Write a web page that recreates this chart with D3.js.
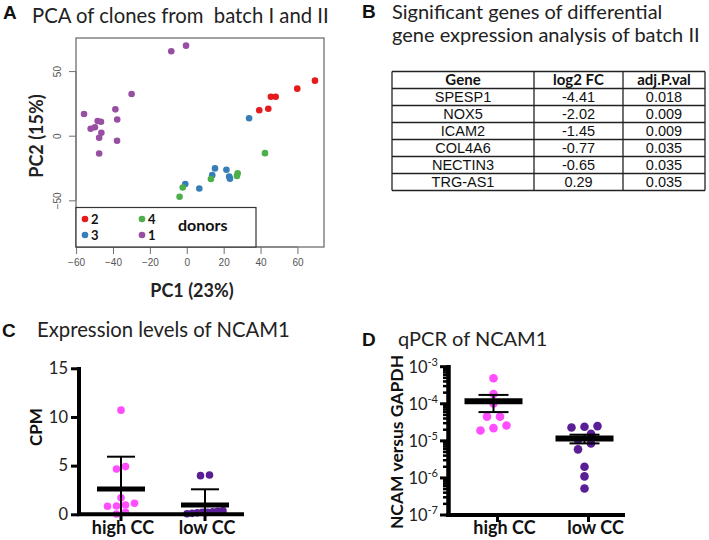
<!DOCTYPE html>
<html><head><meta charset="utf-8">
<script src="https://cdn.jsdelivr.net/npm/d3@7"></script>
<style>
body{margin:0;background:#fff;}
svg{display:block;}
</style></head>
<body>
<svg id="chart" width="709" height="540"></svg>
<script>
// ---------- DATA ----------
// Panel A: PCA of clones (PC1, PC2) per donor
const donors = ["2", "3", "4", "1"];
const pcaDonor2 = [[39.3,19.7],[44.2,20.9],[45.6,30.2],[48.2,30.2],[59.9,36.4],[69.5,42.6]];
const pcaDonor3 = [[33.8,13.5],[15.3,-25.3],[21.5,-26.3],[13.8,-30.5],[23.0,-31.5],[23.4,-33.2],[6.8,-40.8],[-0.8,-37.4]];
const pcaDonor4 = [[42.4,-13.5],[13.1,-33.5],[27.6,-29.1],[27.2,-31.2],[-2.2,-40.1],[-3.9,-47.2]];
const pcaDonor1 = [[-8.4,65.3],[-0.4,69.7],[-29.9,32.3],[-38.7,20.4],[-55.7,16.8],[-37.7,12.5],[-48.3,11.4],[-46.5,10.8],[-52.1,5.4],[-49.8,6.5],[-46.3,2.3],[-47.5,-1.6],[-37.8,-3.9],[-47.5,-13.8]];
const pcaXTicks = [-60,-40,-20,0,20,40,60];
const pcaYTicks = [-50,0,50];

// Panel B: table
const tableHeader = ["Gene", "log2 FC", "adj.P.val"];
const tableGenes = ["SPESP1","NOX5","ICAM2","COL4A6","NECTIN3","TRG-AS1"];
const tableLogFC = ["-4.41","-2.02","-1.45","-0.77","-0.65","0.29"];
const tablePval = ["0.018","0.009","0.009","0.035","0.035","0.035"];

// Panel C: CPM of NCAM1
const groups = ["high CC", "low CC"];
const cpmHigh = [10.7,4.66,4.9,1.7,0.96,0.82,0.85,1.13,0.03,0.2];
const cpmLow = [4.04,3.97,0.15,0.3,0.1,0.2,0.05,0.25,0.35,0.2];
const cpmTicks = [0,5,10,15];

// Panel D: qPCR NCAM vs GAPDH
const qpcrHigh = [4.9e-4,1.83e-4,1.02e-4,4.5e-5,4.5e-5,2.6e-5,2.2e-5,1.9e-5];
const qpcrLow = [2.5e-5,2.3e-5,2.4e-5,1.55e-5,1.05e-5,8.5e-6,5.9e-6,2.0e-6,1.1e-6,5.2e-7];
const qpcrExps = [-7,-6,-5,-4,-3];

// ---------- STYLE ----------
const donorColor = {"2":"#e41a1c","3":"#377eb8","4":"#4daf4a","1":"#984ea3"};
const highColor = "#ff4dff", lowColor = "#5a1e96";
const TITLE = "Lato, 'Open Sans', sans-serif";
const ARIAL = "'Liberation Sans', Arial, sans-serif";

const svg = d3.select("#chart");

function panelLetter(t, x, y){
  svg.append("text").attr("x",x).attr("y",y).text(t)
    .attr("font-family",ARIAL).attr("font-weight","bold").attr("font-size",19).attr("fill","#111");
}
function title(t, x, y, size){
  svg.append("text").attr("x",x).attr("y",y).text(t)
    .attr("font-family",TITLE).attr("font-size",size||20).attr("fill","#222");
}

// ================= PANEL A =================
panelLetter("A", 3, 19);
title("PCA of clones from\u00a0 batch I and II", 32, 23, 20.3);

const ax = d3.scaleLinear().domain([-60.05, 74.4]).range([76, 324]);
const ay = d3.scaleLinear().domain([-86.1, 75.6]).range([247, 38]);
const gA = svg.append("g");

const donorSets = {"2":pcaDonor2,"3":pcaDonor3,"4":pcaDonor4,"1":pcaDonor1};
donors.forEach(d=>{
  gA.selectAll(null).data(donorSets[d]).enter().append("circle")
    .attr("cx",p=>ax(p[0])).attr("cy",p=>ay(p[1])).attr("r",3.3)
    .attr("fill",donorColor[d]);
});

// box
gA.append("rect").attr("x",76).attr("y",38).attr("width",248).attr("height",209)
  .attr("fill","none").attr("stroke","#707070").attr("stroke-width",1.3);

// x axis
const xAxA = gA.append("g").attr("transform","translate(0,247)")
  .call(d3.axisBottom(ax).tickValues(pcaXTicks).tickSize(7).tickPadding(5).tickFormat(d=>d<0?"\u2212"+Math.abs(d):d));
xAxA.select(".domain").attr("d",`M${ax(-60)},0H${ax(60)}`).attr("stroke","#707070");
xAxA.selectAll("line").attr("stroke","#707070");
xAxA.selectAll("text").attr("font-family",ARIAL).attr("font-size",10).attr("fill","#555");

const yAxA = gA.append("g").attr("transform","translate(76,0)")
  .call(d3.axisLeft(ay).tickValues(pcaYTicks).tickSize(7).tickPadding(0).tickFormat(d=>d<0?"\u2212"+Math.abs(d):d));
yAxA.select(".domain").attr("d",`M0,${ay(-50)}V${ay(50)}`).attr("stroke","#707070");
yAxA.selectAll("line").attr("stroke","#707070");
yAxA.selectAll("text").attr("font-family",ARIAL).attr("font-size",10).attr("fill","#555")
  .attr("text-anchor","middle").attr("x",-18).attr("dy",0)
  .attr("transform","rotate(-90,-18,0)").attr("y",3);

// legend
const lg = gA.append("g");
lg.append("rect").attr("x",76).attr("y",207.5).attr("width",180).attr("height",39.5)
  .attr("fill","#fff").attr("stroke","#333").attr("stroke-width",1.2);
const legPos = {"2":[85,219],"3":[85,235],"4":[142,219],"1":[142,235]};
donors.forEach(d=>{
  const [lx,ly]=legPos[d];
  lg.append("circle").attr("cx",lx).attr("cy",ly).attr("r",3.3).attr("fill",donorColor[d]);
  lg.append("text").attr("x",lx+6).attr("y",ly+4.5).text(d)
    .attr("font-family",TITLE).attr("font-weight","bold").attr("font-size",13).attr("fill","#111");
});
lg.append("text").attr("x",178).attr("y",231).text("donors")
  .attr("font-family",TITLE).attr("font-weight","bold").attr("font-size",16).attr("fill","#111");

svg.append("text").attr("x",192).attr("y",297).attr("text-anchor","middle").text("PC1 (23%)")
  .attr("font-family",TITLE).attr("font-weight","bold").attr("font-size",18).attr("fill","#222");
svg.append("text").attr("transform","translate(43,136) rotate(-90)").attr("text-anchor","middle").text("PC2 (15%)")
  .attr("font-family",TITLE).attr("font-weight","bold").attr("font-size",18).attr("fill","#222");

// ================= PANEL B =================
panelLetter("B", 362, 18);
title("Significant genes of differential", 392, 19, 20);
title("gene expression analysis of batch II", 392, 42, 20);

const colEdges = [392, 534, 623, 705];
const rowTop = 71.5, rowH = 17;
const tableRows = [tableHeader].concat(tableGenes.map((g,i)=>[g, tableLogFC[i], tablePval[i]]));
const gB = svg.append("g");
tableRows.forEach((row,ri)=>{
  row.forEach((cell,ci)=>{
    gB.append("text").attr("x",(colEdges[ci]+colEdges[ci+1])/2).attr("y",rowTop+rowH*ri+rowH/2+5)
      .attr("text-anchor","middle").text(cell)
      .attr("font-family", ri===0?TITLE:ARIAL).attr("font-weight", ri===0?"bold":"normal")
      .attr("font-size", ri===0?15:14.5).attr("fill","#111");
  });
});
d3.range(tableRows.length+1).forEach(i=>{
  gB.append("line").attr("x1",colEdges[0]).attr("x2",colEdges[3])
    .attr("y1",rowTop+rowH*i).attr("y2",rowTop+rowH*i).attr("stroke","#222").attr("stroke-width",1.3);
});
colEdges.forEach(x=>{
  gB.append("line").attr("x1",x).attr("x2",x).attr("y1",rowTop).attr("y2",rowTop+rowH*tableRows.length)
    .attr("stroke","#222").attr("stroke-width",1.3);
});

// ---------- dot-plot helper ----------
function swarm(values, yPx, cx, spacing, maxHalf, binPx){
  const pts = values.map(v=>({v, py:yPx(v)})).sort((a,b)=>b.py-a.py);
  const bins=[]; let cur=null;
  pts.forEach(p=>{
    if(!cur || cur.start - p.py > binPx){ cur={start:p.py, items:[]}; bins.push(cur); }
    cur.items.push(p);
  });
  bins.forEach(b=>{
    const n=b.items.length; let s=spacing;
    if(n>1 && (n-1)*s/2>maxHalf) s=2*maxHalf/(n-1);
    b.items.forEach((p,i)=>{ p.px = cx + (i-(n-1)/2)*s; });
  });
  return pts;
}

// ================= PANEL C =================
panelLetter("C", 2, 337);
title("Expression levels of NCAM1", 37, 337, 20.3);

const cy = d3.scaleLinear().domain([0,15]).range([514.3,368.3]);
const cx = d3.scalePoint().domain(groups).range([79,247]).padding(0.5);
const gC = svg.append("g");
const cData = {"high CC":cpmHigh, "low CC":cpmLow};
const cCol = {"high CC":highColor, "low CC":lowColor};
groups.forEach(g=>{
  const pts = swarm(cData[g], cy, cx(g), 9, 18, 7.5);
  gC.selectAll(null).data(pts).enter().append("circle")
    .attr("cx",p=>p.px).attr("cy",p=>p.py).attr("r",3.8).attr("fill",cCol[g]);
});
groups.forEach(g=>{
  const m = d3.mean(cData[g]), sd = d3.deviation(cData[g]);
  const x0 = cx(g);
  gC.append("line").attr("x1",x0).attr("x2",x0).attr("y1",cy(m+sd)).attr("y2",cy(Math.max(0,m-sd)))
    .attr("stroke","#000").attr("stroke-width",2);
  gC.append("line").attr("x1",x0-14).attr("x2",x0+14).attr("y1",cy(m+sd)).attr("y2",cy(m+sd))
    .attr("stroke","#000").attr("stroke-width",2);
  gC.append("line").attr("x1",x0-24).attr("x2",x0+24).attr("y1",cy(m)).attr("y2",cy(m))
    .attr("stroke","#000").attr("stroke-width",5);
});
// axes
const yAxC = gC.append("g").attr("transform","translate(79,0)")
  .call(d3.axisLeft(cy).tickValues(cpmTicks).tickSize(8).tickPadding(3));
yAxC.select(".domain").remove();
yAxC.selectAll("line").attr("stroke","#000").attr("stroke-width",3);
yAxC.selectAll("text").attr("font-family",TITLE).attr("font-size",16.5).attr("fill","#222");
gC.append("line").attr("x1",79).attr("x2",79).attr("y1",367).attr("y2",516).attr("stroke","#000").attr("stroke-width",4);
gC.append("line").attr("x1",77).attr("x2",244).attr("y1",514.3).attr("y2",514.3).attr("stroke","#000").attr("stroke-width",4);
groups.forEach(g=>{
  gC.append("line").attr("x1",cx(g)).attr("x2",cx(g)).attr("y1",514).attr("y2",521).attr("stroke","#000").attr("stroke-width",3);
  gC.append("text").attr("x",cx(g)+2).attr("y",534).attr("text-anchor","middle").text(g)
    .attr("font-family",TITLE).attr("font-weight","bold").attr("font-size",18).attr("fill","#111");
});
svg.append("text").attr("transform","translate(42,427) rotate(-90)").attr("text-anchor","middle").text("CPM")
  .attr("font-family",TITLE).attr("font-weight","bold").attr("font-size",17).attr("fill","#111");

// ================= PANEL D =================
panelLetter("D", 362, 346);
title("qPCR of NCAM1", 398, 346, 20);

const dy = d3.scaleLog().domain([1e-7,1e-3]).range([515,366.7]);
const dx = d3.scalePoint().domain(groups).range([448,630]).padding(0.5);
const gD = svg.append("g");
const dData = {"high CC":qpcrHigh, "low CC":qpcrLow};
groups.forEach(g=>{
  const pts = swarm(dData[g], dy, dx(g), 13, 20, 8);
  gD.selectAll(null).data(pts).enter().append("circle")
    .attr("cx",p=>p.px).attr("cy",p=>p.py).attr("r",4.3).attr("fill",cCol[g]);
});
groups.forEach(g=>{
  const vals=dData[g], m=d3.mean(vals), sem=d3.deviation(vals)/Math.sqrt(vals.length);
  const x0=dx(g);
  gD.append("line").attr("x1",x0).attr("x2",x0).attr("y1",dy(m+sem)).attr("y2",dy(m-sem)).attr("stroke","#000").attr("stroke-width",2);
  [m+sem,m-sem].forEach(v=>gD.append("line").attr("x1",x0-15).attr("x2",x0+15).attr("y1",dy(v)).attr("y2",dy(v)).attr("stroke","#000").attr("stroke-width",2));
  gD.append("line").attr("x1",x0-29).attr("x2",x0+29).attr("y1",dy(m)).attr("y2",dy(m)).attr("stroke","#000").attr("stroke-width",6);
});
// log axis with minor ticks
const minorTicks = [];
qpcrExps.slice(0,-1).forEach(e=>{ for(let k=2;k<=9;k++) minorTicks.push(k*Math.pow(10,e)); });
gD.selectAll(null).data(minorTicks).enter().append("line")
  .attr("x1",443).attr("x2",449).attr("y1",d=>dy(d)).attr("y2",d=>dy(d)).attr("stroke","#000").attr("stroke-width",2.5);
gD.selectAll(null).data(qpcrExps).enter().append("line")
  .attr("x1",440).attr("x2",449).attr("y1",e=>dy(Math.pow(10,e))).attr("y2",e=>dy(Math.pow(10,e))).attr("stroke","#000").attr("stroke-width",3);
const lab = gD.selectAll(null).data(qpcrExps).enter().append("text")
  .attr("x",438).attr("y",e=>dy(Math.pow(10,e))+6).attr("text-anchor","end")
  .attr("font-family",TITLE).attr("font-size",16.5).attr("fill","#222");
lab.append("tspan").text("10");
lab.append("tspan").attr("dy",-7).attr("font-size",11).text(e=>String(e));
gD.append("line").attr("x1",448.5).attr("x2",448.5).attr("y1",365).attr("y2",517).attr("stroke","#000").attr("stroke-width",4.5);
gD.append("line").attr("x1",446).attr("x2",625).attr("y1",515).attr("y2",515).attr("stroke","#000").attr("stroke-width",4);
groups.forEach(g=>{
  gD.append("line").attr("x1",dx(g)+4).attr("x2",dx(g)+4).attr("y1",515).attr("y2",522).attr("stroke","#000").attr("stroke-width",3);
  gD.append("text").attr("x",dx(g)+11).attr("y",534).attr("text-anchor","middle").text(g)
    .attr("font-family",TITLE).attr("font-weight","bold").attr("font-size",18).attr("fill","#111");
});
svg.append("text").attr("transform","translate(403,442) rotate(-90)").attr("text-anchor","middle").text("NCAM versus GAPDH")
  .attr("font-family",TITLE).attr("font-weight","bold").attr("font-size",17.5).attr("fill","#111");
</script>
</body></html>
